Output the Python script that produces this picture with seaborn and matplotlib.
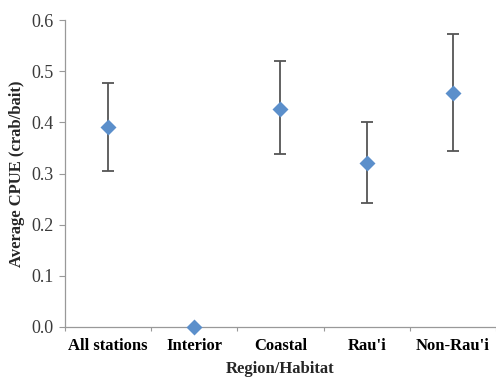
import matplotlib
matplotlib.use("Agg")
import matplotlib.pyplot as plt
import seaborn as sns
import pandas as pd
import numpy as np

categories = ["All stations", "Interior", "Coastal", "Rau'i", "Non-Rau'i"]
cpue = [0.391, 0.0, 0.427, 0.320, 0.458]
err_low = [0.305, 0.0, 0.338, 0.243, 0.345]
err_high = [0.477, 0.0, 0.520, 0.401, 0.573]
yticks = [0.0, 0.1, 0.2, 0.3, 0.4, 0.5, 0.6]

sns.set_style("white")
plt.rcParams['font.family'] = ['Liberation Serif', 'DejaVu Serif']

df = pd.DataFrame({"Region/Habitat": categories, "CPUE": cpue})

fig = plt.figure(figsize=(4.96, 3.8), dpi=100)
ax = fig.add_axes([0.131, 0.1395, 0.869, 0.8075])

pos = np.arange(len(categories))
has_err = [i for i in range(len(categories)) if err_high[i] > err_low[i]]
ax.errorbar([pos[i] for i in has_err], [cpue[i] for i in has_err],
            yerr=[[cpue[i] - err_low[i] for i in has_err],
                  [err_high[i] - cpue[i] for i in has_err]],
            fmt='none', ecolor='#555555', elinewidth=1.3, capsize=4.5,
            capthick=1.3, zorder=2)

sns.pointplot(data=df, x="Region/Habitat", y="CPUE", errorbar=None,
              linestyle='none', markers='D', color='#5B8FCB',
              markersize=6.5, ax=ax, zorder=3)
for coll in ax.collections:
    coll.set_clip_on(False)
for ln in ax.lines:
    ln.set_clip_on(False)

ax.set_ylim(0, 0.6)
ax.set_xlim(-0.5, 4.44)
ax.set_yticks(yticks)
ax.set_yticklabels([f"{v:.1f}" for v in yticks], fontsize=13, color='#3a3a3a')
ax.set_xticks(pos)
ax.set_xticklabels(categories, fontsize=12, fontweight='bold', color='black')
ax.tick_params(axis='x', length=0, pad=8)
ax.tick_params(axis='y', length=4, width=0.8, color='#999999', direction='out', left=True, pad=4)
ax.set_xticks(np.arange(-0.5, len(categories), 1.0), minor=True)
ax.tick_params(axis='x', which='minor', length=3, width=0.8, color='#999999', bottom=True)

for side in ['top', 'right']:
    ax.spines[side].set_visible(False)
for side in ['left', 'bottom']:
    ax.spines[side].set_color('#999999')
    ax.spines[side].set_linewidth(0.9)

ax.set_xlabel("Region/Habitat", fontsize=12, fontweight='bold', labelpad=5)
ax.set_ylabel("Average CPUE (crab/bait)", fontsize=12, fontweight='bold', labelpad=5)

fig.savefig("out.png", dpi=100)
